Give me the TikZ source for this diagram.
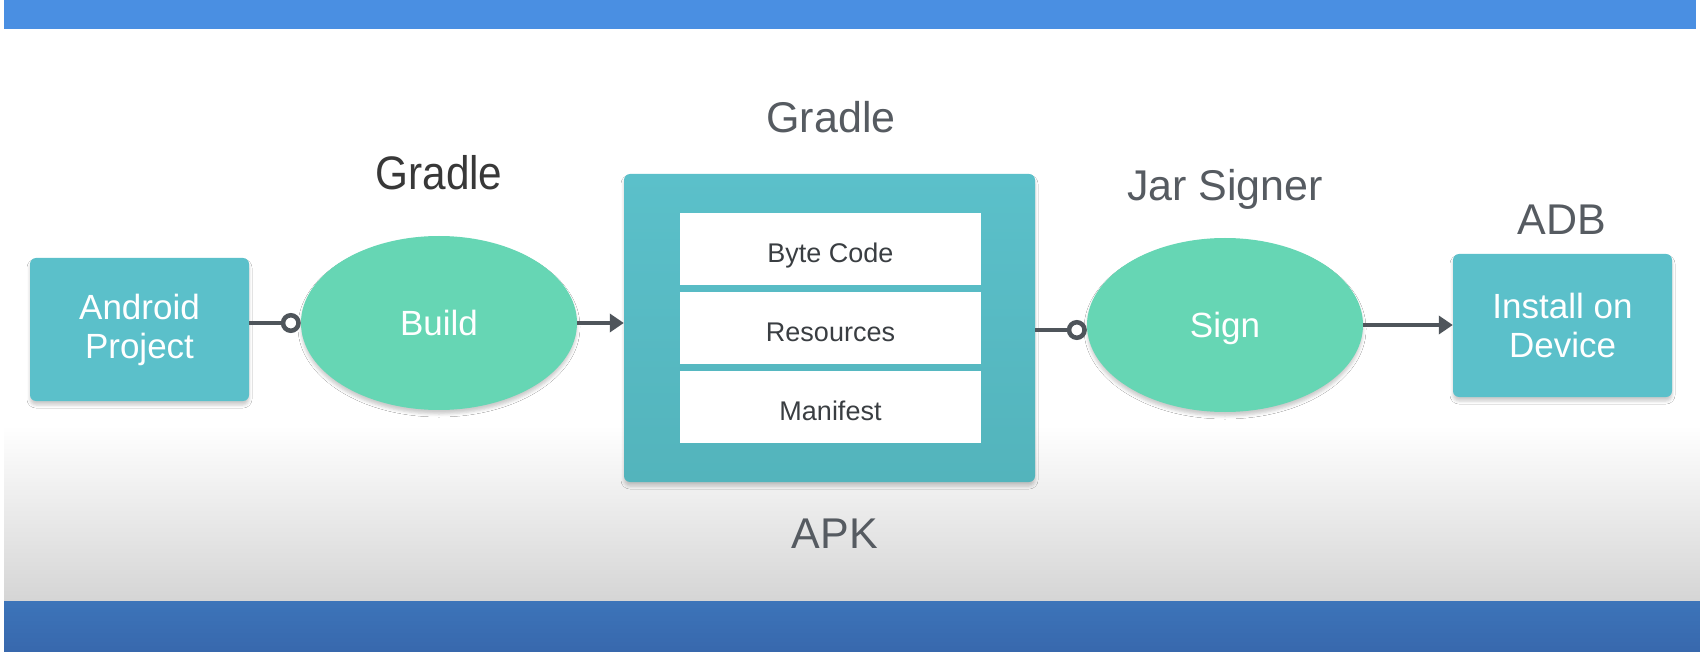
\documentclass[tikz,border=0pt]{standalone}
\usepackage{fontspec}
\setmainfont{Liberation Sans}
\usetikzlibrary{arrows.meta,shapes.geometric,shadows.blur}
\definecolor{topband}{HTML}{4A8FE2}
\definecolor{botbandA}{HTML}{3C74B9}
\definecolor{botbandB}{HTML}{3868AD}
\definecolor{tboxc}{HTML}{5BC0CA}
\definecolor{tboxdark}{HTML}{53B4BC}
\definecolor{mintc}{HTML}{66D6B4}
\definecolor{conncol}{HTML}{4F555B}
\definecolor{lblgray}{HTML}{565B61}
\definecolor{lbldark}{HTML}{383838}
\definecolor{innertext}{HTML}{3A3E42}
\definecolor{floorc}{HTML}{D5D5D5}
\tikzset{
  softshadow/.style={blur shadow={shadow xshift=0pt, shadow yshift=-4pt, shadow blur radius=3pt, shadow opacity=20}},
  boxc/.style={rectangle, rounded corners=6pt, fill=tboxc, text=white, align=center,
    inner sep=0pt, font=\fontsize{35}{39}\selectfont, minimum width=219pt, minimum height=143pt, softshadow},
  ellc/.style={ellipse, fill=mintc, text=white, inner sep=0pt, minimum width=276pt, minimum height=174pt,
    font=\fontsize{35}{39}\selectfont, text height=25pt, text depth=0pt, softshadow},
  inbox/.style={rectangle, fill=white, text=innertext, inner sep=0pt, minimum width=301pt, minimum height=72pt,
    font=\fontsize{27}{30}\selectfont, text height=27pt, text depth=0pt},
  lbl/.style={anchor=base, text=lblgray, inner sep=0pt, font=\fontsize{43}{48}\selectfont},
  conn/.style={draw=conncol, line width=4pt},
  tri/.style={-{Triangle[length=14pt,width=18pt]}},
  ring/.style={-{Circle[open,length=20pt,width=20pt,line width=4.5pt]}},
}
\begin{document}
\begin{tikzpicture}[x=1pt,y=-1pt]
\useasboundingbox (0,0) rectangle (1700,652);
\fill[white] (0,0) rectangle (1700,652);
\shade[top color=white, bottom color=floorc] (4,425) rectangle (1700,601);
\fill[topband] (4,0) rectangle (1696,29);
\shade[top color=botbandA, bottom color=botbandB] (4,601) rectangle (1700,652);

% nodes
\node[boxc] (andr) at (139.5,329.5) {Android\\Project};
\node[ellc] (build) at (439,323) {Build};
\node[rectangle, rounded corners=6pt, top color=tboxc, bottom color=tboxdark, inner sep=0pt,
      minimum width=411pt, minimum height=308pt, softshadow] (apk) at (829.5,328) {};
\node[inbox] (byte) at (830.5,249) {Byte Code};
\node[inbox] (res) at (830.5,328) {Resources};
\node[inbox] (man) at (830.5,407) {Manifest};
\node[ellc] (sign) at (1225,325) {Sign};
\node[boxc] (inst) at (1562.5,325.5) {Install on\\Device};

% labels
\node[lbl, text=lbldark, font=\fontsize{47}{50}\selectfont] (gleft) at (439,190) {\scalebox{0.9}[1]{Gradle}};
\node[lbl] (gtop) at (831,133) {Gradle};
\node[lbl] (jar) at (1225,201) {Jar Signer};
\node[lbl] (adb) at (1562,235) {ADB};
\node[lbl] (apklbl) at (835,548) {APK};

% connectors
\draw[conn, ring] (andr.east |- build.west) -- (build.west);
\draw[conn, tri] (build.east) -- (apk.west |- build.east);
\draw[conn, ring] (apk.east |- 0,330) -- (sign.west |- 0,330);
\draw[conn, tri] (sign.east) -- (inst.west |- sign.east);
\end{tikzpicture}
\end{document}
